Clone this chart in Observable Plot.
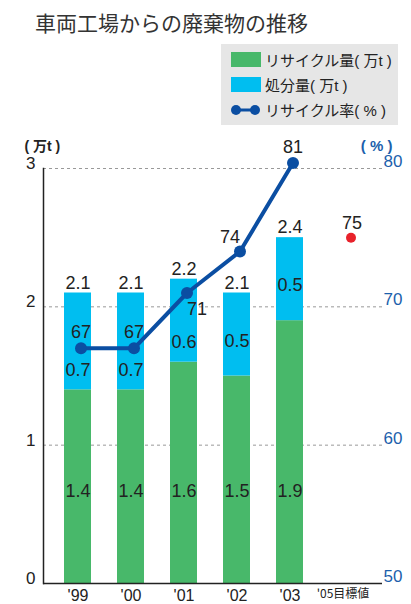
<!DOCTYPE html>
<html><head><meta charset="utf-8">
<script src="https://cdn.jsdelivr.net/npm/d3@7"></script>
<script src="https://cdn.jsdelivr.net/npm/@observablehq/plot@0.6"></script>
<style>
body{margin:0;background:#fff;font-family:'Liberation Sans','Noto Sans CJK JP',sans-serif;color:#222;}
#wrap{width:411px;}
#head{position:relative;height:130px;}
#title{position:absolute;left:35px;top:10px;font-family:'Noto Sans CJK JP',sans-serif;font-size:21px;line-height:24px;color:#333;white-space:nowrap;}
#legend{position:absolute;left:221px;top:44px;width:177px;height:81px;background:#e6e6e6;}
.row{position:absolute;left:10px;height:25px;display:flex;align-items:center;font-size:15px;white-space:nowrap;color:#222;}
.sw{width:30px;height:15px;margin-right:4px;}
svg{display:block;}
</style></head>
<body><div id="wrap">
<div id="head"><div id="title">車両工場からの廃棄物の推移</div><div id="legend"></div></div>
<div id="chart"></div>
</div>
<script>
const years = ["'99","'00","'01","'02","'03"];
const targetLabel = "'05目標値";
const xCategories = [...years, targetLabel];
const recycle = [1.4, 1.4, 1.6, 1.5, 1.9];
const disposal = [0.7, 0.7, 0.6, 0.6, 0.6];
const recycleLabels = ["1.4","1.4","1.6","1.5","1.9"];
const disposalLabels = ["0.7","0.7","0.6","0.5","0.5"];
const totalLabels = ["2.1","2.1","2.2","2.1","2.4"];
const recycleRate = [67, 67, 71, 74, 80.4];
const rateLabels = ["67","67","71","74","81"];
const targetRate = 75;
const targetRateLabel = "75";
const leftTicks = [0, 1, 2, 3];
const rightTicks = [50, 60, 70, 80];
const seriesNames = ["リサイクル量( 万t )", "処分量( 万t )", "リサイクル率( % )"];

const GREEN = "#48b86a", CYAN = "#00bef0", BLUE = "#0b4ea2", RED = "#e8222b", AXBLUE = "#1c5fac";
const rateToY = r => (r - 50) / 10;

// legend
const lg = document.getElementById("legend");
[[GREEN, 0], [CYAN, 1]].forEach(([c, i]) => {
  const r = document.createElement("div"); r.className = "row"; r.style.top = (3 + i * 25) + "px";
  r.innerHTML = `<div class="sw" style="background:${c}"></div><span>${seriesNames[i]}</span>`;
  lg.appendChild(r);
});
{
  const r = document.createElement("div"); r.className = "row"; r.style.top = "53px";
  r.innerHTML = `<svg width="30" height="14" style="margin-right:4px"><line x1="5" y1="7" x2="24" y2="7" stroke="${BLUE}" stroke-width="3"/><circle cx="5" cy="7" r="5" fill="${BLUE}"/><circle cx="24" cy="7" r="5" fill="${BLUE}"/></svg><span>${seriesNames[2]}</span>`;
  lg.appendChild(r);
}

const stacked = [];
years.forEach((y, i) => {
  stacked.push({year: y, type: "recycle", value: recycle[i]});
  stacked.push({year: y, type: "disposal", value: disposal[i]});
});
const bars = years.map((y, i) => ({year: y, i, recycle: recycle[i], total: recycle[i] + disposal[i],
  rate: recycleRate[i], rateLabel: rateLabels[i], dLabel: disposalLabels[i], rLabel: recycleLabels[i], tLabel: totalLabels[i]}));

const chart = Plot.plot({
  width: 411, height: 474,
  marginLeft: 43, marginRight: 29, marginTop: 38, marginBottom: 21,
  style: {fontFamily: "'Liberation Sans','Noto Sans CJK JP',sans-serif", color: "#222", background: "#fff", overflow: "visible"},
  x: {type: "band", domain: xCategories, paddingInner: 0.49, paddingOuter: 0.443, align: 0.45, axis: null},
  y: {domain: [0, 3], axis: null},
  color: {domain: ["recycle", "disposal"], range: [GREEN, CYAN]},
  marks: [
    Plot.gridY([1, 2, 3], {stroke: "#999", strokeOpacity: 1, strokeDasharray: "3,3"}),
    Plot.barY(stacked, {x: "year", y: "value", fill: "type"}),
    Plot.ruleY([0], {stroke: "#222", strokeWidth: 1.5}),
    Plot.frame({anchor: "left", stroke: "#222", strokeWidth: 1.5}),
    Plot.axisY(leftTicks, {tickSize: 0, tickPadding: 8, fontSize: 17, dy: -5, label: null, fill: "#222", tickFormat: d => String(d)}),
    Plot.axisY(rightTicks.map(rateToY), {anchor: "right", tickSize: 0, tickPadding: 1, fontSize: 17, dy: -7, label: null, fill: AXBLUE, tickFormat: d => String(Math.round(d * 10 + 50))}),
    Plot.axisX(years, {tickSize: 0, tickPadding: 6, fontSize: 16, label: null, fill: "#222"}),
    Plot.text([targetLabel], {x: d => d, frameAnchor: "bottom", dy: 14, fontSize: 12, fill: "#222", fontFamily: "'Noto Sans CJK JP',sans-serif"}),
    Plot.text(["( 万t )"], {frameAnchor: "top-left", dx: -19, dy: -27, fontSize: 14, fontWeight: "bold", fill: "#222"}),
    Plot.text(["( % )"], {frameAnchor: "top-right", dx: 10, dy: -28, fontSize: 15, fontWeight: "bold", fill: AXBLUE}),
    // value labels
    Plot.text(bars, {x: "year", frameAnchor: "bottom", dy: -87, text: "rLabel", fontSize: 18, fill: "#222"}),
    Plot.text(bars.filter(d => d.i < 3), {x: "year", y: "recycle", dy: -20, text: "dLabel", fontSize: 18, fill: "#222"}),
    Plot.text(bars.filter(d => d.i >= 3), {x: "year", y: "recycle", dy: -35, text: "dLabel", fontSize: 18, fill: "#222"}),
    Plot.text(bars, {x: "year", y: "total", dy: -10, text: "tLabel", fontSize: 18, fill: "#222"}),
    // rate line
    Plot.line(bars, {x: "year", y: d => rateToY(d.rate), stroke: BLUE, strokeWidth: 4, dx: 3}),
    Plot.dot(bars, {x: "year", y: d => rateToY(d.rate), r: 6, fill: BLUE, dx: 3}),
    Plot.text(bars.filter(d => d.i < 2 || d.i === 4), {x: "year", y: d => rateToY(d.rate), text: "rateLabel", dx: 3, dy: -16, fontSize: 18, fill: "#222"}),
    Plot.text(bars.filter(d => d.i === 2), {x: "year", y: d => rateToY(d.rate), text: "rateLabel", dx: 13, dy: 16, fontSize: 18, fill: "#222"}),
    Plot.text(bars.filter(d => d.i === 3), {x: "year", y: d => rateToY(d.rate), text: "rateLabel", dx: -7, dy: -14, fontSize: 18, fill: "#222"}),
    Plot.dot([targetRate], {x: () => targetLabel, y: d => rateToY(d), r: 5, fill: RED, dx: 8}),
    Plot.text([targetRate], {x: () => targetLabel, y: d => rateToY(d), text: () => targetRateLabel, dx: 9, dy: -14, fontSize: 18, fill: "#222"})
  ]
});
document.getElementById("chart").appendChild(chart);
</script>
</body></html>
